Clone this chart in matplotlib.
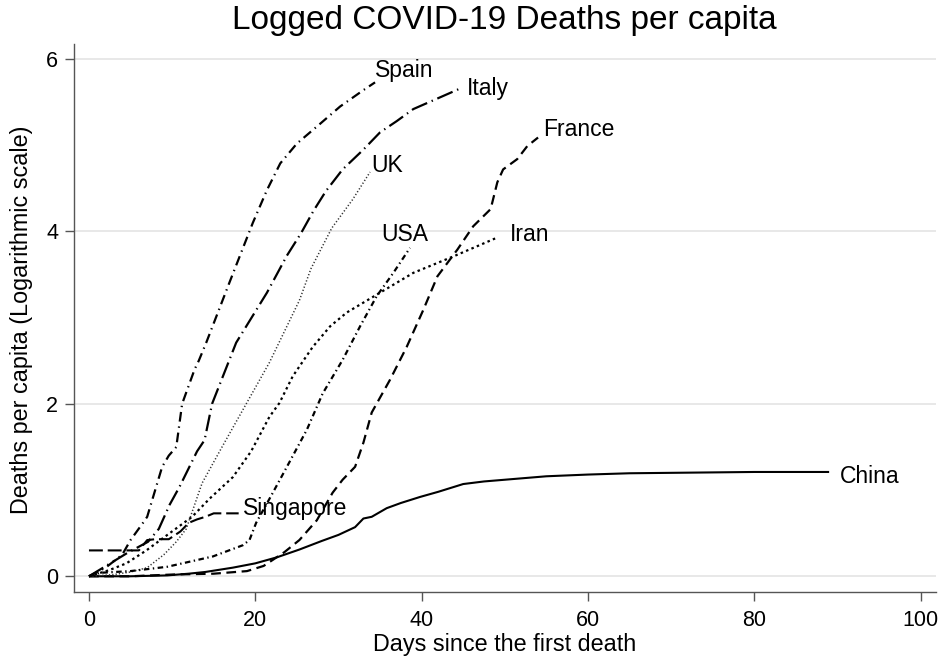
import matplotlib
matplotlib.use("Agg")
import matplotlib.pyplot as plt

plt.rcParams['font.family'] = ['Liberation Sans', 'DejaVu Sans']
plt.rcParams['lines.scale_dashes'] = False

# ---- data (days since first death, logged deaths per capita) ----
china_x = [0, 5, 9.4, 12, 14, 17.3, 20, 22.6, 25.3, 28, 30, 32, 33, 34, 35.8, 37.5, 39.8, 42, 44, 45, 47.5, 50, 55, 60, 65, 70, 75, 80, 85, 89]
china_y = [0, 0.0, 0.01, 0.03, 0.05, 0.1, 0.15, 0.22, 0.31, 0.41, 0.48, 0.57, 0.67, 0.69, 0.79, 0.85, 0.92, 0.98, 1.04, 1.07, 1.10, 1.12, 1.16, 1.18, 1.195, 1.20, 1.205, 1.21, 1.21, 1.21]

france_x = [0, 5, 10, 15, 19, 21, 22.1, 23.5, 25.3, 27.4, 29.3, 30.5, 32, 33, 34, 36.2, 38.2, 40.2, 41.9, 44.3, 46.2, 48.3, 49.1, 49.8, 51.5, 52.7, 54]
france_y = [0, 0.0, 0.02, 0.03, 0.06, 0.12, 0.19, 0.28, 0.42, 0.65, 0.97, 1.12, 1.27, 1.55, 1.9, 2.28, 2.66, 3.09, 3.48, 3.79, 4.06, 4.26, 4.57, 4.72, 4.84, 4.99, 5.09]

iran_x = [0, 2.4, 4.5, 6.9, 9, 12.4, 14.5, 17.3, 19.5, 21.7, 22.9, 24.5, 26.9, 29, 31, 35, 39, 43.8, 46.7, 49.1]
iran_y = [0, 0.07, 0.15, 0.30, 0.45, 0.69, 0.90, 1.15, 1.45, 1.85, 2.01, 2.32, 2.66, 2.90, 3.06, 3.29, 3.52, 3.71, 3.83, 3.93]

italy_x = [0, 2.9, 4.6, 7.1, 8.4, 9.7, 10.9, 13.0, 13.9, 14.8, 17.7, 21.4, 23.8, 25.5, 27, 28.5, 30.5, 33, 35, 37, 39, 41.6, 44.9]
italy_y = [0, 0.17, 0.27, 0.40, 0.55, 0.83, 1.04, 1.45, 1.58, 2.00, 2.71, 3.29, 3.72, 3.98, 4.24, 4.47, 4.72, 4.95, 5.15, 5.28, 5.42, 5.53, 5.67]

singapore_x = [0, 6, 7, 8, 9.6, 11, 12, 13, 14, 15, 18]
singapore_y = [0.30, 0.30, 0.42, 0.43, 0.43, 0.52, 0.62, 0.66, 0.69, 0.73, 0.73]

spain_x = [0, 2, 4, 5, 6.5, 7, 8.8, 9.6, 10.5, 11.2, 12.7, 13.2, 14.1, 16.9, 19.7, 21.4, 23, 25, 27.8, 30.2, 33, 34.4]
spain_y = [0, 0.10, 0.25, 0.42, 0.62, 0.69, 1.27, 1.40, 1.50, 2.00, 2.40, 2.50, 2.71, 3.41, 4.10, 4.48, 4.79, 5.02, 5.25, 5.45, 5.64, 5.73]

uk_x = [0, 3, 5, 7, 9, 10.5, 11.7, 13.6, 16, 18.5, 21.7, 23.8, 25.3, 26.7, 29.2, 31.7, 33.8]
uk_y = [0, 0.02, 0.05, 0.10, 0.25, 0.40, 0.55, 1.08, 1.50, 1.93, 2.48, 2.90, 3.20, 3.57, 4.04, 4.37, 4.69]

usa_x = [0, 1.3, 5, 9.4, 14.9, 18.5, 19.3, 20.1, 22, 23.8, 26.2, 28.1, 30.5, 32.6, 34.6, 36.6, 38.6]
usa_y = [0, 0.04, 0.06, 0.11, 0.23, 0.36, 0.42, 0.62, 0.95, 1.27, 1.70, 2.12, 2.51, 2.90, 3.25, 3.52, 3.81]

countries = ["China", "France", "Iran", "Italy", "Singapore", "Spain", "UK", "USA"]
xticks = [0, 20, 40, 60, 80, 100]
yticks = [0, 2, 4, 6]

series = {
    "China": (china_x, china_y),
    "France": (france_x, france_y),
    "Iran": (iran_x, iran_y),
    "Italy": (italy_x, italy_y),
    "Singapore": (singapore_x, singapore_y),
    "Spain": (spain_x, spain_y),
    "UK": (uk_x, uk_y),
    "USA": (usa_x, usa_y),
}

# ---- styles ----
styles = {
    "China": dict(ls='-', lw=1.5, color='black'),
    "France": dict(ls=(0, (7, 4)), lw=1.6, color='black'),
    "Iran": dict(ls=(0, (1.8, 2.4)), lw=1.6, color='black'),
    "Italy": dict(ls=(0, (12, 3.5, 1, 3.5)), lw=1.6, color='black'),
    "Singapore": dict(ls=(0, (10, 3.5)), lw=1.5, color='black'),
    "Spain": dict(ls=(0, (7, 3.5, 1, 3.5)), lw=1.6, color='black'),
    "UK": dict(ls=(0, (0.9, 1.5)), lw=1.1, color='#333333'),
    "USA": dict(ls=(0, (4, 2.5, 1, 2.5)), lw=1.6, color='black'),
}
label_pos = {
    "Spain": (34.4, 5.87),
    "Italy": (45.5, 5.66),
    "France": (54.6, 5.18),
    "UK": (34.0, 4.77),
    "USA": (35.1, 3.96),
    "Iran": (50.6, 3.96),
    "China": (90.3, 1.16),
    "Singapore": (18.5, 0.79),
}

fig = plt.figure(figsize=(9.43, 6.6), dpi=100)
ax = fig.add_axes([74/943, 1-591.7/660, (936-74)/943, (591.7-44)/660])

for c in countries:
    x, y = series[c]
    ax.plot(x, y, solid_capstyle='butt', dash_capstyle='butt', **styles[c])
    lx, ly = label_pos[c]
    ax.text(lx, ly, c, fontsize=16.5, ha='left', va='center', color='black')

ax.set_xlim(-1.8, 101.85)
ax.set_ylim(-0.179, 6.175)
ax.set_xticks(xticks)
ax.set_yticks(yticks)
ax.tick_params(axis='both', direction='out', length=6.5, width=1.0, color='#555555',
               labelsize=15.5, labelcolor='black')
ax.tick_params(axis='x', pad=7)
ax.tick_params(axis='y', pad=5)
ax.yaxis.grid(True, color='#e6e6e6', lw=1.3)
ax.set_axisbelow(True)
for s in ['top', 'right']:
    ax.spines[s].set_visible(False)
for s in ['left', 'bottom']:
    ax.spines[s].set_color('#555555')
    ax.spines[s].set_linewidth(1.0)

fig.text(504/943, 1-21/660, "Logged COVID-19 Deaths per capita", fontsize=24,
         ha='center', va='center')
fig.text(505/943, 1-644/660, "Days since the first death", fontsize=16.8,
         ha='center', va='center')
fig.text(21.7/943, 1-320/660, "Deaths per capita (Logarithmic scale)", fontsize=16.8,
         ha='center', va='center', rotation=90)

fig.savefig("out.png", dpi=100)
